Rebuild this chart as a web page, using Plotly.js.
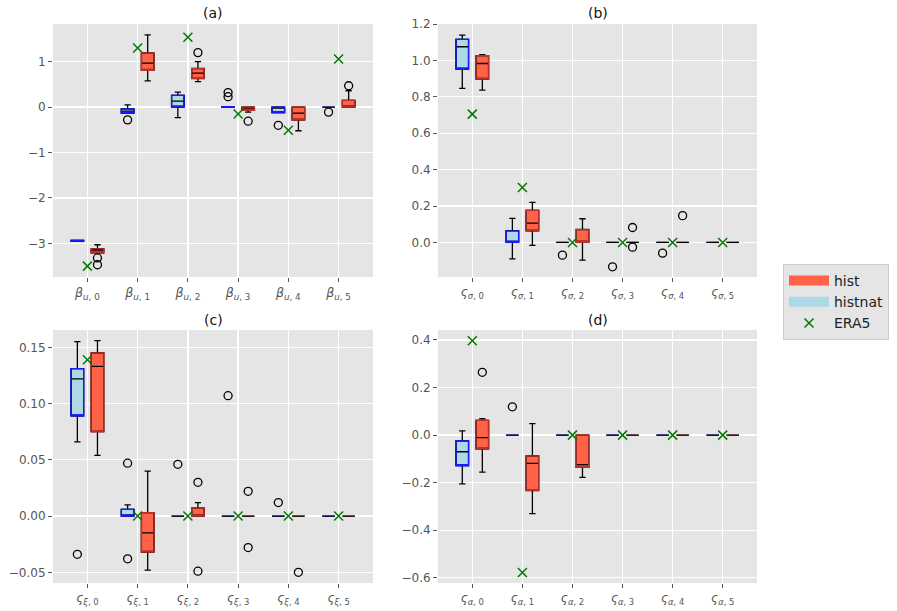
<!DOCTYPE html>
<html>
<head>
<meta charset="utf-8">
<script src="https://cdn.plot.ly/plotly-3.0.1.min.js"></script>
<style>html,body{margin:0;padding:0;background:#fff;}#chart{width:897px;height:611px;}</style>
</head>
<body>
<div id="chart"></div>
<script>
// ---------- data ----------
const categories = [0, 1, 2, 3, 4, 5];

const aTickLabels = ['<i>β</i><sub><i>u</i>, 0</sub>','<i>β</i><sub><i>u</i>, 1</sub>','<i>β</i><sub><i>u</i>, 2</sub>','<i>β</i><sub><i>u</i>, 3</sub>','<i>β</i><sub><i>u</i>, 4</sub>','<i>β</i><sub><i>u</i>, 5</sub>'];
const bTickLabels = ['<i>ς</i><sub><i>σ</i>, 0</sub>','<i>ς</i><sub><i>σ</i>, 1</sub>','<i>ς</i><sub><i>σ</i>, 2</sub>','<i>ς</i><sub><i>σ</i>, 3</sub>','<i>ς</i><sub><i>σ</i>, 4</sub>','<i>ς</i><sub><i>σ</i>, 5</sub>'];
const cTickLabels = ['<i>ς</i><sub><i>ξ</i>, 0</sub>','<i>ς</i><sub><i>ξ</i>, 1</sub>','<i>ς</i><sub><i>ξ</i>, 2</sub>','<i>ς</i><sub><i>ξ</i>, 3</sub>','<i>ς</i><sub><i>ξ</i>, 4</sub>','<i>ς</i><sub><i>ξ</i>, 5</sub>'];
const dTickLabels = ['<i>ς</i><sub><i>α</i>, 0</sub>','<i>ς</i><sub><i>α</i>, 1</sub>','<i>ς</i><sub><i>α</i>, 2</sub>','<i>ς</i><sub><i>α</i>, 3</sub>','<i>ς</i><sub><i>α</i>, 4</sub>','<i>ς</i><sub><i>α</i>, 5</sub>'];
const panelTitles = ['(a)', '(b)', '(c)', '(d)'];

// panel (a)
const aHistnatQ1  = [-2.95, -0.13, 0.00, 0.00, -0.12, 0];
const aHistnatMed = [-2.94, -0.09, 0.13, 0.00, 0.00, 0];
const aHistnatQ3  = [-2.935, -0.04, 0.26, 0.012, 0.00, 0];
const aHistnatLo  = [-2.95, -0.13, -0.23, 0.00, -0.12, 0];
const aHistnatHi  = [-2.935, 0.05, 0.33, 0.012, 0.00, 0];
const aHistnatOut = [[], [-0.28], [], [0.32, 0.23], [-0.40], [-0.11]];
const aHistQ1  = [-3.21, 0.81, 0.63, -0.07, -0.28, 0];
const aHistMed = [-3.15, 0.97, 0.75, -0.02, -0.13, 0];
const aHistQ3  = [-3.12, 1.19, 0.85, 0.00, 0.00, 0.15];
const aHistLo  = [-3.21, 0.58, 0.56, -0.11, -0.52, 0];
const aHistHi  = [-3.03, 1.59, 1.00, 0.00, 0.00, 0.36];
const aHistOut = [[-3.32, -3.47], [], [1.20], [-0.31], [], [0.47]];
const aEra5 = [-3.50, 1.30, 1.54, -0.15, -0.51, 1.06];

// panel (b)
const bHistnatQ1  = [0.952, 0.000, 0, 0, 0, 0];
const bHistnatMed = [1.075, 0.000, 0, 0, 0, 0];
const bHistnatQ3  = [1.115, 0.064, 0, 0, 0, 0];
const bHistnatLo  = [0.846, -0.090, 0, 0, 0, 0];
const bHistnatHi  = [1.139, 0.132, 0, 0, 0, 0];
const bHistnatOut = [[], [], [-0.070], [-0.134], [-0.059], []];
const bHistQ1  = [0.897, 0.064, 0.000, 0, 0, 0];
const bHistMed = [0.983, 0.106, 0.000, 0, 0, 0];
const bHistQ3  = [1.026, 0.176, 0.071, 0, 0, 0];
const bHistLo  = [0.837, -0.016, -0.097, 0, 0, 0];
const bHistHi  = [1.031, 0.220, 0.130, 0, 0, 0];
const bHistOut = [[], [], [], [0.082, -0.026], [0.147], []];
const bEra5 = [0.705, 0.302, 0, 0, 0, 0];

// panel (c)
const cHistnatQ1  = [0.089, 0.000, 0, 0, 0, 0];
const cHistnatMed = [0.122, 0.000, 0, 0, 0, 0];
const cHistnatQ3  = [0.131, 0.006, 0, 0, 0, 0];
const cHistnatLo  = [0.066, 0.000, 0, 0, 0, 0];
const cHistnatHi  = [0.155, 0.010, 0, 0, 0, 0];
const cHistnatOut = [[-0.034], [0.047, -0.038], [0.046], [0.107], [0.012], []];
const cHistQ1  = [0.075, -0.032, 0.000, 0, 0, 0];
const cHistMed = [0.133, -0.015, 0.000, 0, 0, 0];
const cHistQ3  = [0.145, 0.003, 0.007, 0, 0, 0];
const cHistLo  = [0.054, -0.048, 0.000, 0, 0, 0];
const cHistHi  = [0.156, 0.040, 0.012, 0, 0, 0];
const cHistOut = [[], [], [0.030, -0.049], [0.022, -0.028], [-0.050], []];
const cEra5 = [0.139, 0, 0, 0, 0, 0];

// panel (d)
const dHistnatQ1  = [-0.128, 0, 0, 0, 0, 0];
const dHistnatMed = [-0.070, 0, 0, 0, 0, 0];
const dHistnatQ3  = [-0.024, 0, 0, 0, 0, 0];
const dHistnatLo  = [-0.205, 0, 0, 0, 0, 0];
const dHistnatHi  = [0.018, 0, 0, 0, 0, 0];
const dHistnatOut = [[], [0.119], [], [], [], []];
const dHistQ1  = [-0.058, -0.233, -0.136, 0, 0, 0];
const dHistMed = [-0.011, -0.119, -0.124, 0, 0, 0];
const dHistQ3  = [0.062, -0.087, 0.000, 0, 0, 0];
const dHistLo  = [-0.156, -0.330, -0.178, 0, 0, 0];
const dHistHi  = [0.069, 0.048, 0.000, 0, 0, 0];
const dHistOut = [[0.264], [], [], [], [], []];
const dEra5 = [0.397, -0.578, 0, 0, 0, 0];

// ---------- styling ----------
const HIST_FILL = '#FF6347', HIST_EDGE = '#B8322A';
const NAT_FILL = '#ADD8E6', NAT_EDGE = '#1A1AFF';
const ERA_COLOR = '#007A00';
const OFFSET = 0.2, BOXW = 0.25;

const boxes = [], points = [];

function addBoxes(xa, ya, q1, med, q3, lo, hi, off, fill, edge) {
  const pos = categories.map(c => c + off);
  const common = {type: 'box', xaxis: xa, yaxis: ya, width: BOXW, showlegend: false,
                  hoverinfo: 'skip', boxpoints: false};
  boxes.push(Object.assign({}, common, {x: pos, q1: q1, median: q1, q3: q3,
    lowerfence: q1, upperfence: q3, fillcolor: fill, whiskerwidth: 0,
    line: {color: edge, width: 1.2}}));
  boxes.push(Object.assign({}, common, {x: pos, q1: q1, median: med, q3: q3,
    lowerfence: lo, upperfence: hi, fillcolor: 'rgba(0,0,0,0)', whiskerwidth: 0.5,
    line: {color: 'black', width: 1.3}}));
  const idx = categories.filter(i => q3[i] - q1[i] > 1e-9);
  if (idx.length) {
    boxes.push(Object.assign({}, common, {x: idx.map(i => pos[i]),
      q1: idx.map(i => q1[i]), median: idx.map(i => q1[i]), q3: idx.map(i => q3[i]),
      lowerfence: idx.map(i => q1[i]), upperfence: idx.map(i => q3[i]),
      fillcolor: 'rgba(0,0,0,0)', whiskerwidth: 0, line: {color: edge, width: 1.2}}));
  }
}

function addOutliers(xa, ya, outs, off) {
  const xs = [], ys = [];
  outs.forEach((arr, i) => arr.forEach(v => { xs.push(categories[i] + off); ys.push(v); }));
  points.push({type: 'scatter', mode: 'markers', xaxis: xa, yaxis: ya, x: xs, y: ys,
    showlegend: false, hoverinfo: 'skip', cliponaxis: false,
    marker: {symbol: 'circle-open', size: 8, color: 'black', line: {width: 1.3, color: 'black'}}});
}

function addEra(xa, ya, vals, legend) {
  points.push({type: 'scatter', mode: 'markers', xaxis: xa, yaxis: ya, x: categories, y: vals,
    name: 'ERA5', showlegend: legend, hoverinfo: 'skip', cliponaxis: false,
    marker: {symbol: 'x-thin', size: 9, color: ERA_COLOR, line: {width: 1.5, color: ERA_COLOR}}});
}

const panels = [
  ['x', 'y', aHistnatQ1, aHistnatMed, aHistnatQ3, aHistnatLo, aHistnatHi, aHistnatOut, aHistQ1, aHistMed, aHistQ3, aHistLo, aHistHi, aHistOut, aEra5],
  ['x2', 'y2', bHistnatQ1, bHistnatMed, bHistnatQ3, bHistnatLo, bHistnatHi, bHistnatOut, bHistQ1, bHistMed, bHistQ3, bHistLo, bHistHi, bHistOut, bEra5],
  ['x3', 'y3', cHistnatQ1, cHistnatMed, cHistnatQ3, cHistnatLo, cHistnatHi, cHistnatOut, cHistQ1, cHistMed, cHistQ3, cHistLo, cHistHi, cHistOut, cEra5],
  ['x4', 'y4', dHistnatQ1, dHistnatMed, dHistnatQ3, dHistnatLo, dHistnatHi, dHistnatOut, dHistQ1, dHistMed, dHistQ3, dHistLo, dHistHi, dHistOut, dEra5]
];

panels.forEach(p => {
  addBoxes(p[0], p[1], p[2], p[3], p[4], p[5], p[6], -OFFSET, NAT_FILL, NAT_EDGE);
  addBoxes(p[0], p[1], p[8], p[9], p[10], p[11], p[12], OFFSET, HIST_FILL, HIST_EDGE);
});

points.push({type: 'scatter', mode: 'lines', x: [null], y: [null], xaxis: 'x', yaxis: 'y',
  name: 'hist', line: {color: HIST_FILL, width: 10}, hoverinfo: 'skip'});
points.push({type: 'scatter', mode: 'lines', x: [null], y: [null], xaxis: 'x', yaxis: 'y',
  name: 'histnat', line: {color: NAT_FILL, width: 10}, hoverinfo: 'skip'});

panels.forEach(p => {
  addOutliers(p[0], p[1], p[7], -OFFSET);
  addOutliers(p[0], p[1], p[13], OFFSET);
});
panels.forEach((p, k) => addEra(p[0], p[1], p[14], k === 0));

// ---------- layout ----------
const W = 897, H = 611;
const colPx = [[53, 373], [438, 757]];
const rowPx = [[24, 277], [330, 583]];
const xd = c => [colPx[c][0] / W, colPx[c][1] / W];
const yd = r => [1 - rowPx[r][1] / H, 1 - rowPx[r][0] / H];

const FONT = 'DejaVu Sans, sans-serif';
function xAxis(c, anchor, ticktext, size) {
  return {domain: xd(c), anchor: anchor, range: [-0.685, 5.685], tickvals: categories, ticktext: ticktext,
    ticks: 'outside', ticklen: 4, tickcolor: '#555', tickwidth: 1,
    tickfont: {family: FONT, size: size, color: '#555'}, showgrid: true, gridcolor: '#FFFFFF',
    gridwidth: 1.3, zeroline: false, showline: false, fixedrange: true, automargin: false};
}
function yAxis(r, anchor, range, tickvals, fmt) {
  return {domain: yd(r), anchor: anchor, range: range, tickvals: tickvals, tickformat: fmt,
    ticks: 'outside', ticklen: 4, tickcolor: '#555', tickwidth: 1,
    tickfont: {family: FONT, size: 12, color: '#555'}, showgrid: true, gridcolor: '#FFFFFF',
    gridwidth: 1.3, zeroline: false, showline: false, fixedrange: true, automargin: false};
}

const annotations = panelTitles.map((t, k) => {
  const c = k % 2, r = Math.floor(k / 2);
  return {text: t, xref: 'paper', yref: 'paper', showarrow: false,
    x: (colPx[c][0] + colPx[c][1]) / 2 / W, y: 1 - (rowPx[r][0] - 10.5) / H,
    xanchor: 'center', yanchor: 'middle', font: {family: FONT, size: 14, color: '#111'}};
});

const layout = {
  width: W, height: H, margin: {l: 0, r: 0, t: 0, b: 0},
  paper_bgcolor: '#FFFFFF', plot_bgcolor: '#E5E5E5', hovermode: false,
  boxmode: 'overlay', font: {family: FONT},
  xaxis: xAxis(0, 'y', aTickLabels, 12.5),  yaxis: yAxis(0, 'x', [-3.74, 1.83], [-3, -2, -1, 0, 1], 'd'),
  xaxis2: xAxis(1, 'y2', bTickLabels, 12), yaxis2: yAxis(0, 'x2', [-0.19, 1.2], [0, 0.2, 0.4, 0.6, 0.8, 1.0, 1.2], '.1f'),
  xaxis3: xAxis(0, 'y3', cTickLabels, 12), yaxis3: yAxis(1, 'x3', [-0.0595, 0.1654], [-0.05, 0, 0.05, 0.1, 0.15], '.2f'),
  xaxis4: xAxis(1, 'y4', dTickLabels, 12), yaxis4: yAxis(1, 'x4', [-0.622, 0.442], [-0.6, -0.4, -0.2, 0, 0.2, 0.4], '.1f'),
  annotations: annotations,
  legend: {x: 783 / W, y: 1 - 264 / H, xanchor: 'left', yanchor: 'top', itemwidth: 40,
    bgcolor: '#E5E5E5', bordercolor: '#CCCCCC', borderwidth: 1,
    font: {family: FONT, size: 14, color: '#222'}, tracegroupgap: 0}
};

Plotly.newPlot('chart', boxes.concat(points), layout, {staticPlot: true, displayModeBar: false});
</script>
</body>
</html>
